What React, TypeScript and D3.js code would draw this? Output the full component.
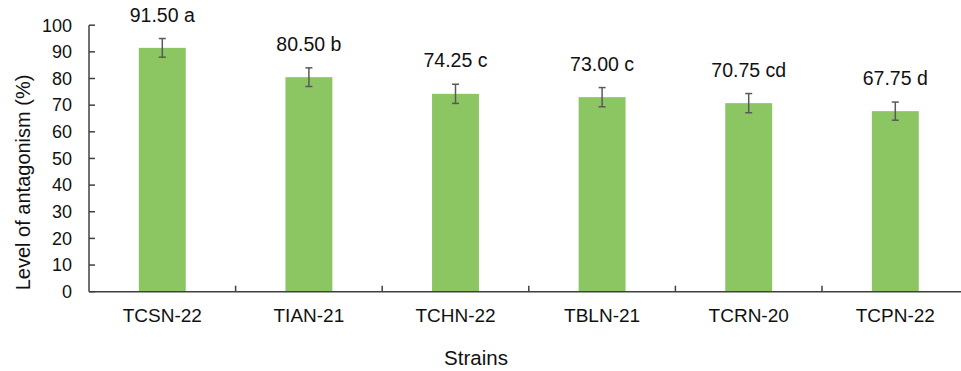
import React from 'react'
import * as d3 from 'd3'

const strains = ['TCSN-22', 'TIAN-21', 'TCHN-22', 'TBLN-21', 'TCRN-20', 'TCPN-22']
const means = [91.5, 80.5, 74.25, 73.0, 70.75, 67.75]
const errors = [3.5, 3.5, 3.6, 3.6, 3.6, 3.4]
const letters = ['a', 'b', 'c', 'c', 'cd', 'd']
const yTicks = [0, 10, 20, 30, 40, 50, 60, 70, 80, 90, 100]

const width = 961
const height = 371
const margin = { top: 25.2, left: 89, bottom: 79.3 }
const font = 'Liberation Sans, Arial, sans-serif'

export default function App() {
  const x = d3
    .scaleBand()
    .domain(strains)
    .range([margin.left, margin.left + 146.6 * strains.length])
    .padding(0)

  const y = d3
    .scaleLinear()
    .domain([0, 100])
    .range([height - margin.bottom, margin.top])

  const barW = x.bandwidth() * 0.32
  const axisColor = '#404040'

  return (
    <svg
      width={width}
      height={height}
      style={{ position: 'absolute', left: 0, top: 0, background: '#fff' }}
      fontFamily={font}
    >
      {/* bars */}
      {strains.map((s, i) => {
        const cx = x(s) + x.bandwidth() / 2
        return (
          <rect
            key={s}
            x={cx - barW / 2}
            y={y(means[i])}
            width={barW}
            height={y(0) - y(means[i])}
            fill="#8BC663"
          />
        )
      })}

      {/* error bars */}
      {strains.map((s, i) => {
        const cx = x(s) + x.bandwidth() / 2
        const top = y(means[i] + errors[i])
        const bot = y(means[i] - errors[i])
        return (
          <g key={s} stroke="#595959" strokeWidth={1.5}>
            <line x1={cx} x2={cx} y1={top} y2={bot} />
            <line x1={cx - 3.5} x2={cx + 3.5} y1={top} y2={top} />
            <line x1={cx - 3.5} x2={cx + 3.5} y1={bot} y2={bot} />
          </g>
        )
      })}

      {/* value labels */}
      {strains.map((s, i) => {
        const cx = x(s) + x.bandwidth() / 2
        return (
          <text
            key={s}
            x={cx}
            y={y(means[i] + errors[i]) - 17}
            textAnchor="middle"
            fontSize={19.5}
            fill="#111"
          >
            {means[i].toFixed(2) + ' ' + letters[i]}
          </text>
        )
      })}

      {/* y axis */}
      <line
        x1={margin.left}
        x2={margin.left}
        y1={y(100)}
        y2={y(0)}
        stroke={axisColor}
        strokeWidth={1.5}
      />
      {yTicks.map(t => (
        <g key={t}>
          <line
            x1={margin.left}
            x2={margin.left + 6}
            y1={y(t)}
            y2={y(t)}
            stroke={axisColor}
            strokeWidth={1.5}
          />
          <text
            x={72}
            y={y(t)}
            dy="0.35em"
            textAnchor="end"
            fontSize={18}
            fill="#111"
          >
            {t}
          </text>
        </g>
      ))}

      {/* x axis */}
      <line
        x1={margin.left}
        x2={margin.left + 146.6 * strains.length}
        y1={y(0)}
        y2={y(0)}
        stroke={axisColor}
        strokeWidth={1.5}
      />
      {strains.map(s => (
        <line
          key={'tick' + s}
          x1={x(s) + x.bandwidth()}
          x2={x(s) + x.bandwidth()}
          y1={y(0)}
          y2={y(0) - 6}
          stroke={axisColor}
          strokeWidth={1.5}
        />
      ))}
      {strains.map(s => (
        <text
          key={'lbl' + s}
          x={x(s) + x.bandwidth() / 2}
          y={321.5}
          textAnchor="middle"
          fontSize={19}
          fill="#111"
        >
          {s}
        </text>
      ))}

      {/* axis titles */}
      <text x={476} y={365} textAnchor="middle" fontSize={20.5} fill="#111">
        Strains
      </text>
      <text
        transform={`translate(30, ${(y(0) + y(100)) / 2 + 24}) rotate(-90)`}
        textAnchor="middle"
        fontSize={20}
        fill="#111"
      >
        Level of antagonism (%)
      </text>
    </svg>
  )
}
